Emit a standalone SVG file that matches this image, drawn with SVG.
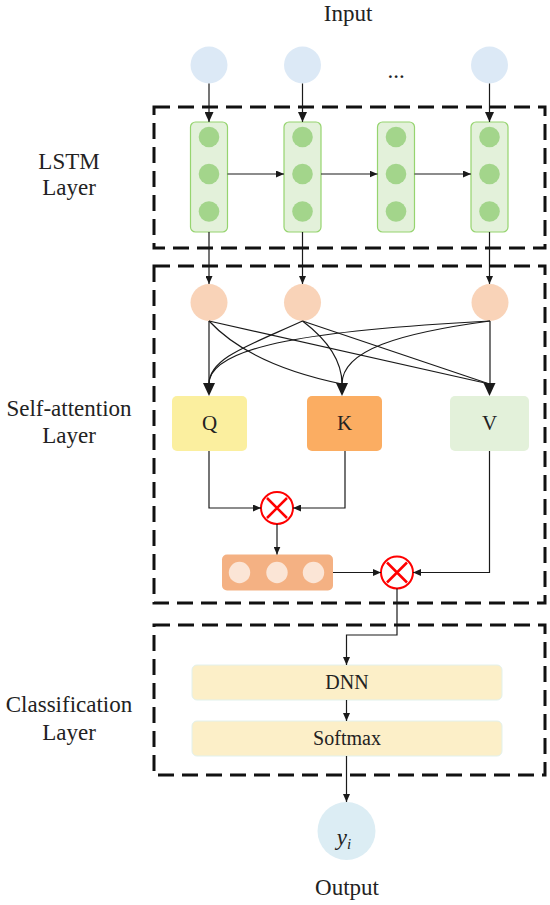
<svg xmlns="http://www.w3.org/2000/svg" width="550" height="905" viewBox="0 0 550 905">
<style>
text{font-family:"Liberation Serif","Times New Roman",serif;fill:#222;text-anchor:middle}
.lbl{font-size:23px}
.box{fill:none;stroke:#111;stroke-width:3;stroke-dasharray:16 8}
.in{fill:#dce9f6}
.lstm{fill:#e3f1da;stroke:#96d46f;stroke-width:1.2}
.dot{fill:#a3d58b}
.peach{fill:#f9d3b8}
.ln{fill:none;stroke:#1a1a1a;stroke-width:1.2}
.mul{fill:#fff;stroke:#ff0000;stroke-width:2}
.x{stroke:#ff0000;stroke-width:2.5}
.cls{fill:#fcefc8;stroke:#e2f1ec;stroke-width:1}
.head{fill:#1a1a1a}
</style>
<defs>
<marker id="sm" markerUnits="userSpaceOnUse" markerWidth="8" markerHeight="7" refX="8" refY="3.5" orient="auto"><path d="M0,0 L8,3.5 L0,7 z" fill="#1a1a1a"/></marker>
<marker id="md" markerUnits="userSpaceOnUse" markerWidth="10" markerHeight="9" refX="10" refY="4.5" orient="auto"><path d="M0,0 L10,4.5 L0,9 z" fill="#1a1a1a"/></marker>
</defs>

<g id="lstm-layer">
<rect class="box" x="154" y="107" width="391" height="141"/>
<text class="lbl" x="69" y="169">LSTM</text>
<text class="lbl" x="69" y="195">Layer</text>
</g>
<g id="attention-layer">
<rect class="box" x="154" y="266" width="391" height="337"/>
<text class="lbl" x="69" y="416">Self-attention</text>
<text class="lbl" x="69" y="443">Layer</text>
</g>
<g id="classification-layer">
<rect class="box" x="154" y="625" width="391" height="150"/>
<text class="lbl" x="69" y="712">Classification</text>
<text class="lbl" x="69" y="740">Layer</text>
</g>

<g id="input">
<text class="lbl" x="348" y="21">Input</text>
<circle class="in" cx="209" cy="65" r="18.5"/>
<circle class="in" cx="302.5" cy="65" r="18.5"/>
<circle class="in" cx="489.5" cy="65" r="18.5"/>
<text class="lbl" x="396" y="78">...</text>
</g>

<g id="lstm1"><rect class="lstm" x="190.5" y="122" width="37" height="110" rx="5"/><circle class="dot" cx="209" cy="137" r="10.3"/><circle class="dot" cx="209" cy="174" r="10.3"/><circle class="dot" cx="209" cy="211.5" r="10.3"/></g>
<g id="lstm2"><rect class="lstm" x="284" y="122" width="37" height="110" rx="5"/><circle class="dot" cx="302.5" cy="137" r="10.3"/><circle class="dot" cx="302.5" cy="174" r="10.3"/><circle class="dot" cx="302.5" cy="211.5" r="10.3"/></g>
<g id="lstm3"><rect class="lstm" x="377.5" y="122" width="37" height="110" rx="5"/><circle class="dot" cx="396" cy="137" r="10.3"/><circle class="dot" cx="396" cy="174" r="10.3"/><circle class="dot" cx="396" cy="211.5" r="10.3"/></g>
<g id="lstm4"><rect class="lstm" x="471" y="122" width="37" height="110" rx="5"/><circle class="dot" cx="489.5" cy="137" r="10.3"/><circle class="dot" cx="489.5" cy="174" r="10.3"/><circle class="dot" cx="489.5" cy="211.5" r="10.3"/></g>

<g id="hidden">
<circle class="peach" cx="209" cy="302.5" r="18.5"/>
<circle class="peach" cx="302.5" cy="302.5" r="18.5"/>
<circle class="peach" cx="490" cy="302.5" r="18.5"/>
</g>

<g id="Q"><rect x="172" y="396" width="75" height="55" rx="5" fill="#fbef9f"/><text x="209.5" y="430" style="font-size:21px">Q</text></g>
<g id="K"><rect x="307" y="396" width="75" height="55" rx="5" fill="#fbad62"/><text x="344.5" y="430" style="font-size:21px">K</text></g>
<g id="V"><rect x="450" y="396" width="79" height="55" rx="5" fill="#e3f1da"/><text x="489.5" y="430" style="font-size:21px">V</text></g>

<g id="mul1"><circle class="mul" cx="277" cy="508" r="16"/><path class="x" d="M267,498 L287,518 M287,498 L267,518"/></g>
<g id="weights"><rect x="222" y="554.5" width="111" height="36" rx="5" fill="#f4b183"/><circle cx="239.5" cy="572.5" r="10.7" fill="#fbe5d6"/><circle cx="277" cy="572.5" r="10.7" fill="#fbe5d6"/><circle cx="313.5" cy="572.5" r="10.7" fill="#fbe5d6"/></g>
<g id="mul2"><circle class="mul" cx="397" cy="572.5" r="16"/><path class="x" d="M387,562.5 L407,582.5 M407,562.5 L387,582.5"/></g>

<g id="dnn"><rect class="cls" x="192" y="665" width="310" height="35" rx="5"/><text x="347" y="689" style="font-size:20px">DNN</text></g>
<g id="softmax"><rect class="cls" x="192" y="721" width="310" height="35" rx="5"/><text x="347" y="745" style="font-size:20px">Softmax</text></g>

<g id="output">
<circle cx="346.5" cy="831" r="29" fill="#dcedf4"/>
<text x="344" y="845" style="font-size:23px;font-style:italic">y<tspan dy="4" style="font-size:15px">i</tspan></text>
<text class="lbl" x="347" y="895">Output</text>
</g>

<g id="connectors">
<path class="ln" marker-end="url(#md)" d="M209,83.5 V122"/>
<path class="ln" marker-end="url(#md)" d="M302.5,83.5 V122"/>
<path class="ln" marker-end="url(#md)" d="M489.5,83.5 V122"/>
<path class="ln" marker-end="url(#sm)" d="M227.5,174 H284"/>
<path class="ln" marker-end="url(#sm)" d="M321,174 H377.5"/>
<path class="ln" marker-end="url(#sm)" d="M414.5,174 H471"/>
<path class="ln" marker-end="url(#sm)" d="M209,232 V284"/>
<path class="ln" marker-end="url(#sm)" d="M302.5,232 V284"/>
<path class="ln" marker-end="url(#sm)" d="M489.5,232 V284"/>
<path class="ln" d="M209,321 V384"/>
<path class="ln" d="M209,321 Q250,365 342,384"/>
<path class="ln" d="M209,321 L489.5,384"/>
<path class="ln" d="M302.5,321 C250,345 209,358 209,384"/>
<path class="ln" d="M302.5,321 C325,338 342,360 342,384"/>
<path class="ln" d="M302.5,321 L489.5,384"/>
<path class="ln" d="M490,321 C320,330 209,345 209,384"/>
<path class="ln" d="M490,321 C400,333 342,350 342,384"/>
<path class="ln" d="M490,321 V384"/>
<polygon class="head" points="203,383 215,383 209,396"/>
<polygon class="head" points="336,383 348,383 342,396"/>
<polygon class="head" points="483.5,383 495.5,383 489.5,396"/>
<path class="ln" marker-end="url(#sm)" d="M209,451 V508 H261"/>
<path class="ln" marker-end="url(#sm)" d="M345,451 V508 H293"/>
<path class="ln" marker-end="url(#sm)" d="M277,524 V554.5"/>
<path class="ln" marker-end="url(#sm)" d="M333,572.5 H381"/>
<path class="ln" marker-end="url(#sm)" d="M489.5,451 V572.5 H413"/>
<path class="ln" marker-end="url(#sm)" d="M397,588.5 V635 H346.5 V665"/>
<path class="ln" marker-end="url(#sm)" d="M346.5,700 V721"/>
<path class="ln" marker-end="url(#sm)" d="M346.5,756 V802"/>
</g>
</svg>
